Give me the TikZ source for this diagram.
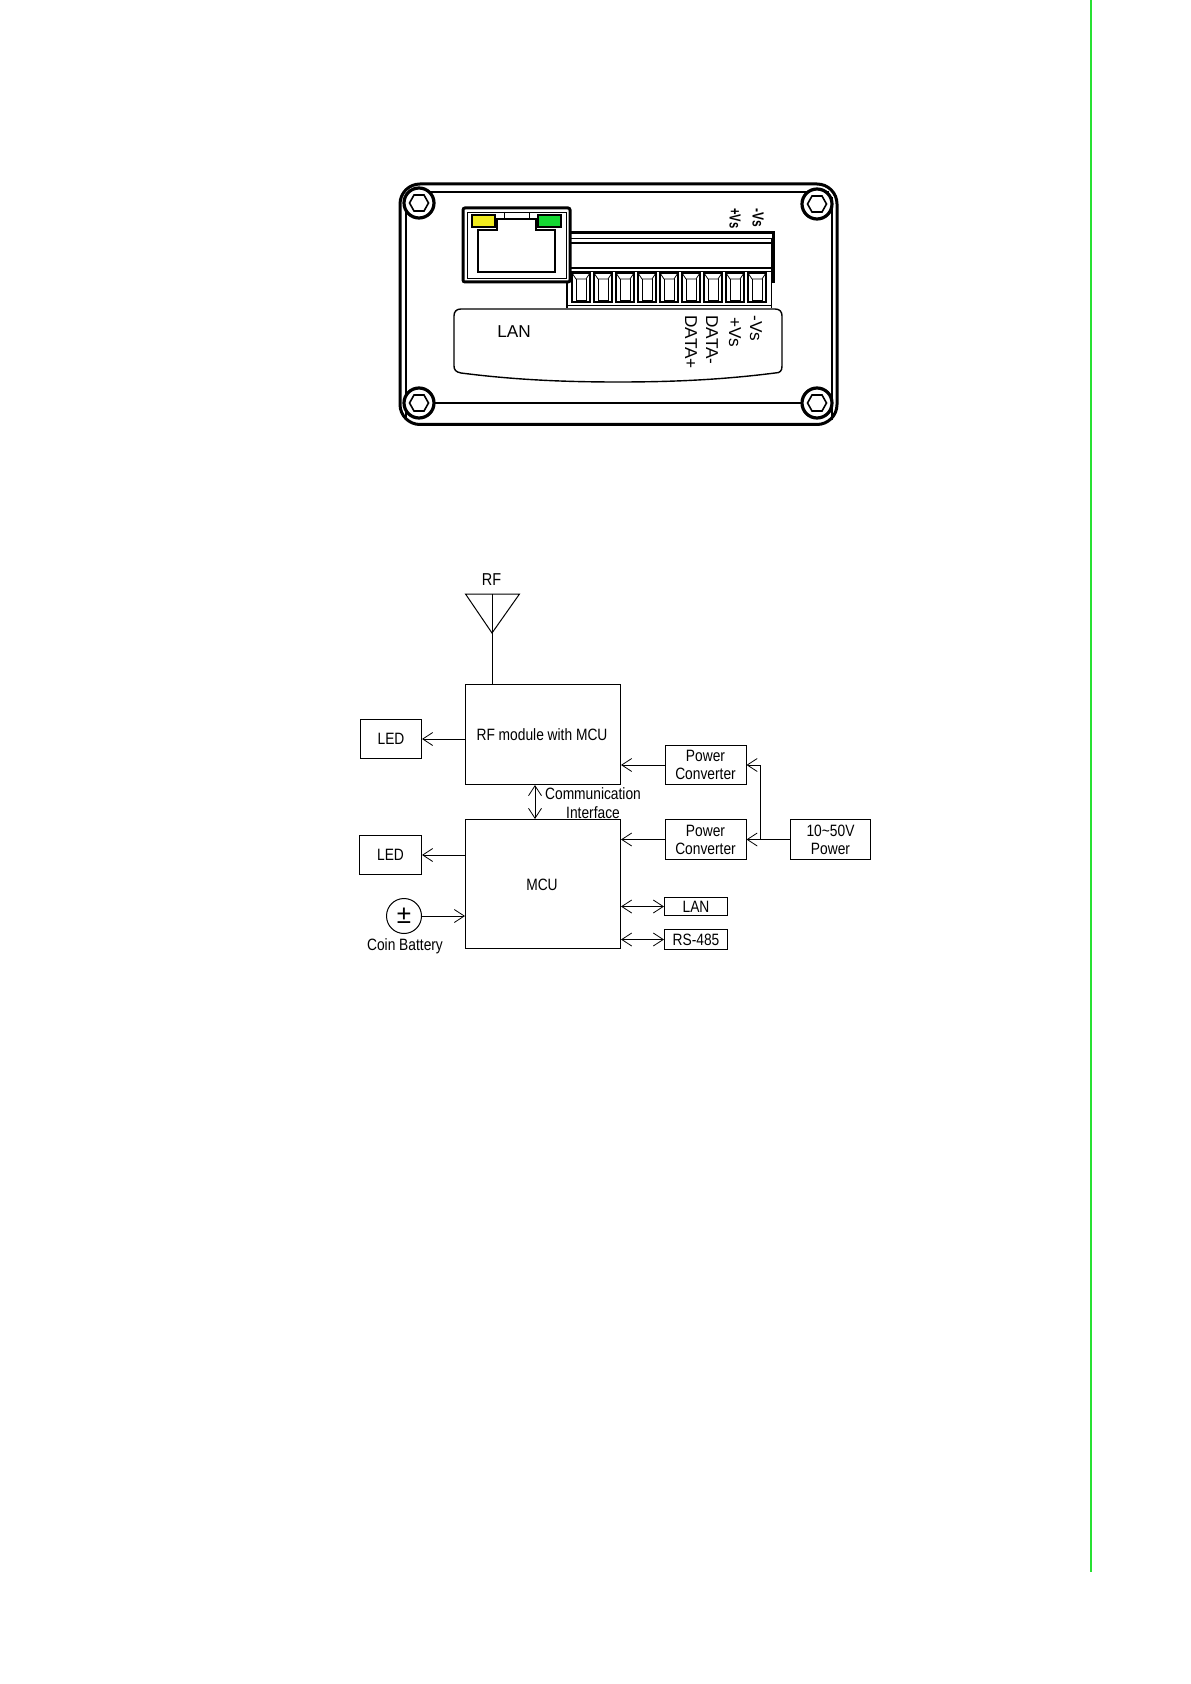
\documentclass[tikz,border=0pt]{standalone}
\usepackage{fontspec}
\setmainfont{Liberation Sans}
\newfontfamily\narrowf[FakeStretch=0.84]{Liberation Sans}
\usetikzlibrary{arrows.meta,calc}
\definecolor{pagegreen}{RGB}{40,225,50}
\definecolor{ledyellow}{RGB}{240,235,30}
\definecolor{ledgreen}{RGB}{20,215,50}
\tikzset{
  blockbox/.style={draw=black,line width=0.5pt,inner sep=0pt,minimum width=#1,align=center,font=\narrowf\fontsize{8.2}{9}\selectfont},
  conn/.style={line width=0.5pt,draw=black},
  tip/.style={-{Straight Barb[length=5pt,width=6.5pt,line width=0.4pt]}},
  tiptwo/.style={{Straight Barb[length=5pt,width=6.5pt,line width=0.4pt]}-{Straight Barb[length=5pt,width=6.5pt,line width=0.4pt]}},
  lbl/.style={inner sep=0pt,font=\narrowf\fontsize{8.2}{9}\selectfont},
  plate/.style={inner sep=0pt,font=\fontsize{8.6}{10}\selectfont},
  heavy/.style={draw=black,line width=1.5pt},
  medium/.style={draw=black,line width=0.7pt},
  thin/.style={draw=black,line width=0.4pt}
}
\newcommand{\screw}[2]{%
  \draw[heavy,line width=1.6pt,fill=white] (#1,#2) circle (15);
  \draw[medium,line width=0.8pt] (#1-9.5,#2) -- (#1-5,#2-8) -- (#1+5,#2-8) -- (#1+9.5,#2) -- (#1+5,#2+8) -- (#1-5,#2+8) -- cycle;
}
\newcommand{\slotcell}[1]{%
  \draw[medium,fill=white] (#1,273) rectangle (#1+18,302);
  \draw[thin] (#1,273) -- (#1+4,279) -- (#1+14,279) -- (#1+18,273);
  \draw[thin] (#1+4,279) -- (#1+4,300) -- (#1+14,300) -- (#1+14,279);
}
\begin{document}
\begin{tikzpicture}[x=0.5pt,y=-0.5pt]
\useasboundingbox (0,0) rectangle (1190,1684);
\fill[white] (0,0) rectangle (1190,1684);
% page rule
\draw[pagegreen,line width=1.15pt] (1091,0) -- (1091,1572);
% device housing
\draw[heavy,rounded corners=10pt] (400,184) rectangle (837,424.5);
\draw[thin,line width=0.6pt] (408,192) -- (829,192);
\draw[thin,line width=0.6pt] (408,403) -- (829,403);
\draw[medium] (406,197) -- (406,420);
\draw[medium] (832,197) -- (832,420);
\screw{419}{203}
\screw{817}{204}
\screw{419}{403}
\screw{817}{403}
% terminal block
\draw[heavy] (567,233) -- (773,233) -- (773,283);
\draw[thin] (773,238) -- (567,238);
\draw[medium] (567,243) -- (771,243);
\draw[medium] (567,268) -- (771,268);
\draw[thin] (567,271) -- (771,271);
\draw[thin] (771,238) -- (771,308);
\draw[medium] (567,238) -- (567,308);
\draw[thin] (567,305) -- (771,305);
\foreach \i in {0,...,8}{\slotcell{572+22*\i}}
% RJ45
\draw[heavy,rounded corners=1pt,fill=white] (463,208) rectangle (570,282);
\draw[thin] (467,212) -- (566,212) -- (566,278) -- (467,278) -- cycle;
\draw[medium] (478,230) -- (497,230) -- (497,219) -- (536,219) -- (536,230) -- (555,230) -- (555,272) -- (478,272) -- cycle;
\draw[thin] (504,212) -- (504,219);
\draw[thin] (529,212) -- (529,219);
\draw[medium,fill=ledyellow] (472,215) rectangle (495,227);
\draw[medium,fill=ledgreen] (538,215) rectangle (561,227);
% label plate
\draw[medium,fill=white] (461,309) -- (775,309) .. controls (780,309) and (782,312) .. (782,316) -- (782,366) .. controls (782,371) and (780,373) .. (775,373) .. controls (720,380) and (670,382) .. (618,382) .. controls (566,382) and (516,380) .. (461,373) .. controls (456,372) and (454,370) .. (454,366) -- (454,316) .. controls (454,312) and (456,309) .. (461,309) -- cycle;
\node[plate] (lanlabel) at (514,332) {LAN};
\node[plate,rotate=-90,anchor=west] (datap) at (691,315) {DATA+};
\node[plate,rotate=-90,anchor=west] (datam) at (712,315) {DATA-};
\node[plate,rotate=-90,anchor=west] (vsp) at (735,317) {+Vs};
\node[plate,rotate=-90,anchor=west] (vsm) at (756,315) {-Vs};
\node[inner sep=0pt,rotate=-90,anchor=west,font=\bfseries\fontsize{8}{8}\selectfont] (tvsp) at (735,208) {\scalebox{0.7}[1]{+Vs}};
\node[inner sep=0pt,rotate=-90,anchor=west,font=\bfseries\fontsize{8}{8}\selectfont] (tvsm) at (758,208) {\scalebox{0.75}[1]{-Vs}};
% block diagram
\node[lbl,font=\narrowf\fontsize{8.6}{9}\selectfont] (rflabel) at (491.5,580) {RF};
\coordinate (antl) at (465.5,594);
\coordinate (antr) at (519.5,594);
\coordinate (antm) at (492,594);
\coordinate (antp) at (492,633);
\draw[conn] (antl) -- (antr) -- (antp) -- cycle;
\node[blockbox=155pt/2,minimum height=50pt,anchor=north west] (rf) at (465,684) {};
\node[lbl] (rftext) at (542,735) {RF module with MCU};
\node[blockbox=155pt/2,minimum height=64.5pt,anchor=north west] (mcu) at (465,819) {};
\node[lbl] (mcutext) at (542,885) {MCU};
\node[blockbox=61pt/2,minimum height=19.5pt,anchor=north west] (led1) at (360,719) {LED};
\node[blockbox=62pt/2,minimum height=19.5pt,anchor=north west] (led2) at (359,835) {LED};
\node[blockbox=81pt/2,minimum height=19.5pt,anchor=north west] (pc1) at (664.5,745) {Power\\Converter};
\node[blockbox=81pt/2,minimum height=20pt,anchor=north west] (pc2) at (664.5,819) {Power\\Converter};
\node[blockbox=80pt/2,minimum height=20pt,anchor=north west] (pwr) at (790,819) {10\textasciitilde 50V\\Power};
\node[blockbox=63pt/2,minimum height=9pt,anchor=north west] (lan) at (664,897) {LAN};
\node[blockbox=63pt/2,minimum height=10pt,anchor=north west] (rs) at (664,929) {RS-485};
\node[draw=black,line width=0.5pt,circle,minimum size=17.5pt,inner sep=0pt] (batt) at (404,916) {};
\node[inner sep=0pt,font=\fontsize{13}{13}\selectfont] (battsym) at (404,916) {\char"00B1};
\node[lbl] (batttext) at (405,946) {Coin Battery};
\node[lbl] (comm1) at (593,794) {Communication};
\node[lbl] (comm2) at (593,813) {Interface};
% connectors
\draw[conn] (antm) -- (antp);
\draw[conn] (antp) -- (rf.north -| antp);
\draw[conn,tip] (rf.west |- led1.east) -- (led1.east);
\draw[conn,tip] (mcu.west |- led2.east) -- (led2.east);
\draw[conn,tip] (batt.east) -- (mcu.west |- batt.east);
\coordinate (commx) at (535,800);
\draw[conn,tiptwo] (rf.south -| commx) -- (mcu.north -| commx);
\draw[conn,tip] (pc1.west) -- (rf.east |- pc1.west);
\draw[conn,tip] (pc2.west) -- (mcu.east |- pc2.west);
\draw[conn,tip] (pwr.west) -- (pc2.east);
\coordinate (junc) at (760,839);
\draw[conn,tip] (junc) -- (junc |- pc1.east) -- (pc1.east);
\draw[conn,tiptwo] (mcu.east |- lan.west) -- (lan.west);
\draw[conn,tiptwo] (mcu.east |- rs.west) -- (rs.west);
\end{tikzpicture}
\end{document}
